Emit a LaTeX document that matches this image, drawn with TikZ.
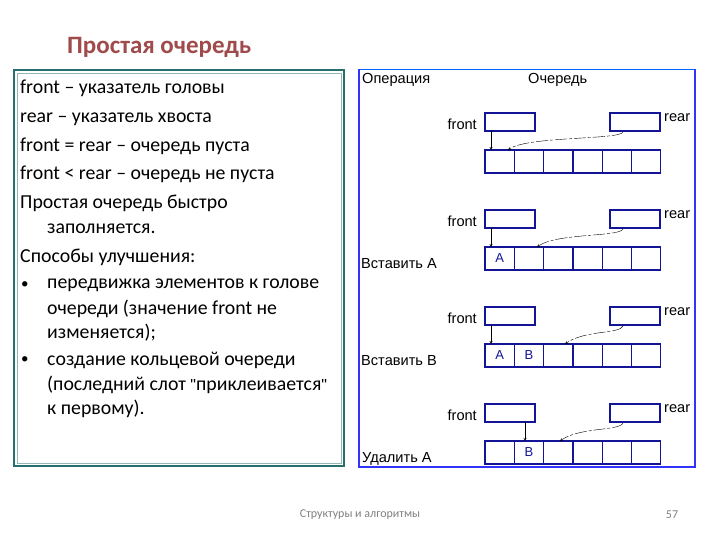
\documentclass[tikz,border=0pt]{standalone}
\usepackage{fontspec}
\setmainfont[Ligatures=ResetAll]{Carlito}
\newfontfamily\arial[Ligatures=ResetAll]{Liberation Sans}
\newcommand{\sq}{{\fontsize{16}{16}\selectfont\arial\symbol{34}}}
\begin{document}
\begin{tikzpicture}[x=1pt,y=-1pt,
  lt/.style={anchor=west,font=\fontsize{19.8}{20}\selectfont,inner sep=0pt},
  rt/.style={anchor=west,font=\arial\fontsize{14.6}{15}\selectfont,inner sep=0pt},
  ptr/.style={draw=qblue,line width=1.8pt,minimum width=50pt,minimum height=18pt,inner sep=0pt},
  cell/.style={draw=qblue,line width=1.3pt,minimum width=29.3pt,minimum height=23pt,inner sep=0pt},
  lab/.style={font=\arial\fontsize{13}{13}\selectfont,text=qblue},
  parr/.style={->,>=stealth,thin},
  rarr/.style={->,>=stealth,thin,dash pattern=on 12pt off 2pt on 3pt off 2pt}]
\definecolor{qblue}{RGB}{20,20,150}
\definecolor{teal2}{RGB}{40,110,110}
\definecolor{ttl}{RGB}{160,75,75}
\useasboundingbox (0,0) rectangle (720,540);
\fill[white] (0,0) rectangle (720,540);
\node[anchor=west,font=\bfseries\fontsize{25}{26}\selectfont,text=ttl,inner sep=0pt] (title) at (67,47) {Простая очередь};
\draw[teal2,line width=2.2pt] (14,70) rectangle (344,466);
\draw[teal2!50,line width=0.6pt] (17,73) rectangle (341,463);
\node[lt] (l1) at (20,88) {front – указатель головы};
\node[lt] (l2) at (20,119) {rear – указатель хвоста};
\node[lt] (l3) at (20,146) {front = rear – очередь пуста};
\node[lt] (l4) at (20,174) {front < rear – очередь не пуста};
\node[lt] (l5) at (20,203) {Простая очередь быстро};
\node[lt] (l6) at (47,229) {заполняется.};
\node[lt] (l7) at (20,257) {Способы улучшения:};
\node[lt,font=\fontsize{15}{15}\selectfont] (b1) at (21,285) {•};
\node[lt] (l8) at (47,285) {передвижка элементов к голове};
\node[lt] (l9) at (47,309) {очереди (значение front не};
\node[lt] (l10) at (47,333) {изменяется);};
\node[lt,font=\fontsize{15}{15}\selectfont] (b2) at (21,360) {•};
\node[lt] (l11) at (47,360) {создание кольцевой очереди};
\node[lt] (l12) at (47,385) {(последний слот \sq приклеивается\sq};
\node[lt] (l13) at (47,409) {к первому).};
\draw[blue!60!cyan,line width=0.8pt] (359,69) -- (695,69);
\draw[blue!80,line width=2pt] (359,69) -- (359,467) -- (695,467) -- (695,69);
\node[rt] (op) at (362,80) {Операция};
\node[rt] (q) at (528,80) {Очередь};
\foreach \r/\yo/\fx/\rx in {0/0/491/508, 1/97/491/537, 2/194/491/565, 3/291/525/560}{
  \node[ptr] (f\r) at (510,122+\yo) {};
  \node[ptr] (r\r) at (635,122+\yo) {};
  \node[rt,anchor=east] (fl\r) at (477,124+\yo) {front};
  \node[rt] (rl\r) at (664,118+\yo) {rear};
  \foreach \c in {0,...,5}{
    \node[cell] (c\r\c) at (499.65+29.3*\c,161.5+\yo) {};
  }
  \coordinate (ft\r) at (\fx,150+\yo);
  \coordinate (rt\r) at (\rx,150+\yo);
  \draw[parr] (\fx,131+\yo) -- (ft\r);
  \draw[rarr] (623,132+\yo) .. controls (620,140+\yo) and (\rx+20,136+\yo) .. (rt\r);
}
\node[lab] (a1) at (c10) {A};
\node[lab] (a2) at (c20) {A};
\node[lab] (b2x) at (c21) {B};
\node[lab] (b3) at (c31) {B};
\node[rt] (ins1) at (361,264) {Вставить A};
\node[rt] (ins2) at (361,361) {Вставить B};
\node[rt] (del) at (362,459) {Удалить  A};
\node[font=\fontsize{12}{12}\selectfont,text=gray] (foot) at (360,515) {Структуры и алгоритмы};
\node[font=\fontsize{12}{12}\selectfont,text=gray] (pg) at (672,515) {57};
\end{tikzpicture}
\end{document}
